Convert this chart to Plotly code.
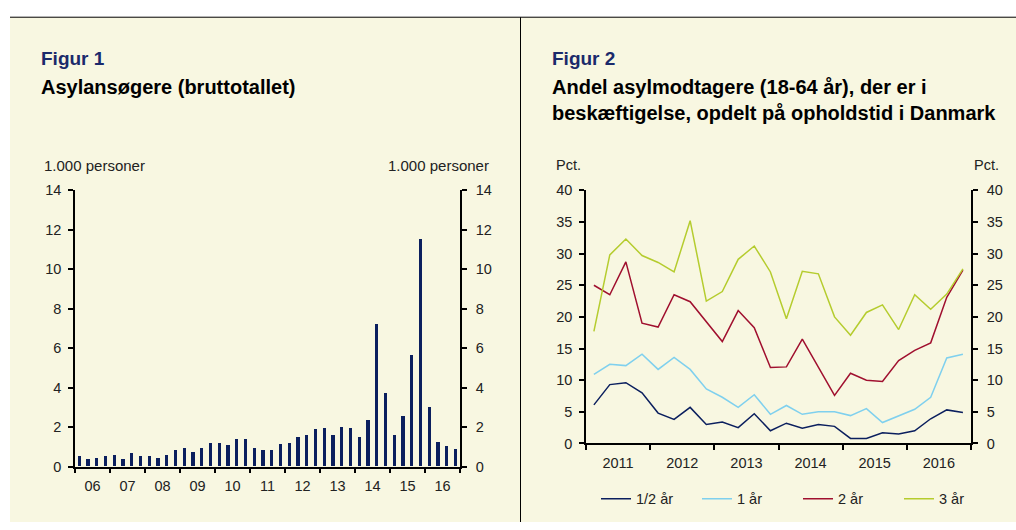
import pandas as pd
import plotly.graph_objects as go

# ---------------- data ----------------
bar_quarters = pd.period_range("2006Q1", "2016Q4", freq="Q")
asylum_seekers = [0.54, 0.38, 0.44, 0.52,
                  0.57, 0.36, 0.70, 0.52,
                  0.52, 0.44, 0.57, 0.82,
                  0.92, 0.74, 0.92, 1.21,
                  1.21, 1.07, 1.38, 1.41,
                  0.95, 0.82, 0.85, 1.15,
                  1.18, 1.48, 1.58, 1.90,
                  1.94, 1.61, 2.00, 1.94,
                  1.49, 2.33, 7.19, 3.73,
                  1.58, 2.54, 5.63, 11.54,
                  3.02, 1.25, 1.03, 0.90]

line_quarters = pd.period_range("2011Q1", "2016Q4", freq="Q")
series_names = ["1/2 år", "1 år", "2 år", "3 år"]
half_year = [6.1, 9.3, 9.6, 8.0, 4.8, 3.8, 5.7, 3.0, 3.4, 2.5, 4.7, 2.0,
             3.2, 2.4, 3.0, 2.7, 0.8, 0.8, 1.7, 1.5, 2.0, 3.9, 5.3, 4.9]
one_year = [10.9, 12.5, 12.3, 14.1, 11.7, 13.6, 11.7, 8.6, 7.3, 5.7, 7.7, 4.6,
            6.0, 4.6, 5.0, 5.0, 4.4, 5.5, 3.3, 4.3, 5.4, 7.3, 13.5, 14.1]
two_years = [25.0, 23.5, 28.7, 19.0, 18.4, 23.5, 22.4, 19.3, 16.1, 21.0, 18.3, 12.0,
             12.1, 16.5, 12.1, 7.6, 11.1, 10.0, 9.8, 13.1, 14.7, 15.9, 23.1, 27.4]
three_years = [17.7, 29.8, 32.3, 29.7, 28.6, 27.1, 35.2, 22.5, 24.0, 29.1, 31.2, 27.1,
               19.7, 27.2, 26.8, 20.0, 17.1, 20.7, 21.9, 18.0, 23.5, 21.2, 23.6, 27.6]


def mid(periods):
    s = periods.start_time
    e = periods.end_time
    return s + (e - s) / 2


bar_x = mid(bar_quarters)
line_x = mid(line_quarters)

# ---------------- style ----------------
W, H = 1016, 530
FONT = "Liberation Sans, Arial, sans-serif"
NAVY = "#0b1f5e"
COLORS = ["#0b1f5e", "#7fd0ee", "#a0102f", "#b5cc2e"]
CREAM = "#f8f7e1"
TXT = "#222222"


def px_x(x):
    return x / W


def px_y(y):
    return 1 - y / H


fig = go.Figure()

fig.add_trace(go.Bar(x=bar_x, y=asylum_seekers, marker=dict(color=NAVY, line=dict(width=0)),
                     width=35 * 86400000, xaxis="x", yaxis="y", showlegend=False))
fig.add_trace(go.Scatter(x=bar_x, y=asylum_seekers, xaxis="x", yaxis="y2", mode="lines",
                         line=dict(width=0), opacity=0, showlegend=False, hoverinfo="skip"))

for name, vals, col in zip(series_names, [half_year, one_year, two_years, three_years], COLORS):
    fig.add_trace(go.Scatter(x=line_x, y=vals, mode="lines", name=name,
                             line=dict(color=col, width=1.5), xaxis="x2", yaxis="y3"))
fig.add_trace(go.Scatter(x=line_x, y=half_year, xaxis="x2", yaxis="y4", mode="lines",
                         line=dict(width=0), opacity=0, showlegend=False, hoverinfo="skip"))

axis_common = dict(showline=True, linecolor="black", linewidth=1.5, ticks="outside",
                   ticklen=5, tickwidth=1.5, tickcolor="black", showgrid=False, zeroline=False,
                   tickfont=dict(family=FONT, size=14.5, color=TXT))

left_dom = [px_x(75), px_x(460)]
right_dom = [px_x(586), px_x(971)]

fig.update_layout(
    width=W, height=H, margin=dict(l=0, r=0, t=0, b=0), autosize=False,
    paper_bgcolor="white", plot_bgcolor="rgba(0,0,0,0)",
    font=dict(family=FONT, size=14.5, color=TXT),
    bargap=0,
    xaxis=dict(domain=left_dom, anchor="y", type="date",
               range=["2006-01-01", "2017-01-01"], dtick="M12", tick0="2006-01-01",
               ticklabelmode="period", tickformat="%y", **axis_common),
    yaxis=dict(domain=[px_y(473), px_y(188)], anchor="x", range=[0, 14], dtick=2,
               ticklabelstandoff=4, **axis_common),
    yaxis2=dict(overlaying="y", side="right", anchor="x", range=[0, 14], dtick=2,
                ticklabelstandoff=6, **axis_common),
    xaxis2=dict(domain=right_dom, anchor="y3", type="date",
                range=["2011-01-01", "2017-01-01"], dtick="M12", tick0="2011-01-01",
                ticklabelmode="period", tickformat="%Y", **axis_common),
    yaxis3=dict(domain=[px_y(449), px_y(188)], anchor="x2", range=[0, 40], dtick=5,
                ticklabelstandoff=4, **axis_common),
    yaxis4=dict(overlaying="y3", side="right", anchor="x2", range=[0, 40], dtick=5,
                ticklabelstandoff=6, **axis_common),
    legend=dict(orientation="h", x=px_x(596), y=px_y(506), xanchor="left", yanchor="middle",
                bgcolor="rgba(0,0,0,0)", font=dict(family=FONT, size=14.5, color=TXT),
                entrywidth=56, itemwidth=30, traceorder="normal"),
)

shapes = [
    dict(type="rect", xref="paper", yref="paper", x0=px_x(10), x1=1, y0=0, y1=px_y(9.5),
         fillcolor=CREAM, line=dict(width=0), layer="below"),
    dict(type="line", xref="paper", yref="paper", x0=px_x(10), x1=1, y0=px_y(9.5), y1=px_y(9.5),
         line=dict(color="black", width=1)),
    dict(type="line", xref="paper", yref="paper", x0=px_x(520.5), x1=px_x(520.5), y0=0, y1=px_y(9.5),
         line=dict(color="black", width=1)),
]
fig.update_layout(shapes=shapes)


def ann(text, x, y, size=14.5, color=TXT, xanchor="left", bold=False):
    return dict(text=f"<b>{text}</b>" if bold else text, x=px_x(x), y=px_y(y),
                xref="paper", yref="paper", xanchor=xanchor, yanchor="middle",
                showarrow=False, font=dict(family=FONT, size=size, color=color))


annotations = [
    ann("Figur 1", 39, 52, size=19, color="#1b2a6b", bold=True),
    ann("Asylansøgere (bruttotallet)", 39, 81, size=20, color="black", bold=True),
    ann("Figur 2", 550, 52, size=19, color="#1b2a6b", bold=True),
    ann("Andel asylmodtagere (18-64 år), der er i", 550, 81, size=20, color="black", bold=True),
    ann("beskæftigelse, opdelt på opholdstid i Danmark", 550, 108, size=20, color="black", bold=True),
    ann("1.000 personer", 42, 162, size=15),
    ann("1.000 personer", 491, 162, size=15, xanchor="right"),
    ann("Pct.", 554, 162),
    ann("Pct.", 1001, 162, xanchor="right"),
]
fig.update_layout(annotations=annotations)

page_fix = (
    "document.body.style.margin='0';document.body.style.padding='0';"
    "document.documentElement.style.overflow='hidden';"
)

fig.write_html("out.html", config={"responsive": False, "displayModeBar": False},
               post_script=page_fix)
